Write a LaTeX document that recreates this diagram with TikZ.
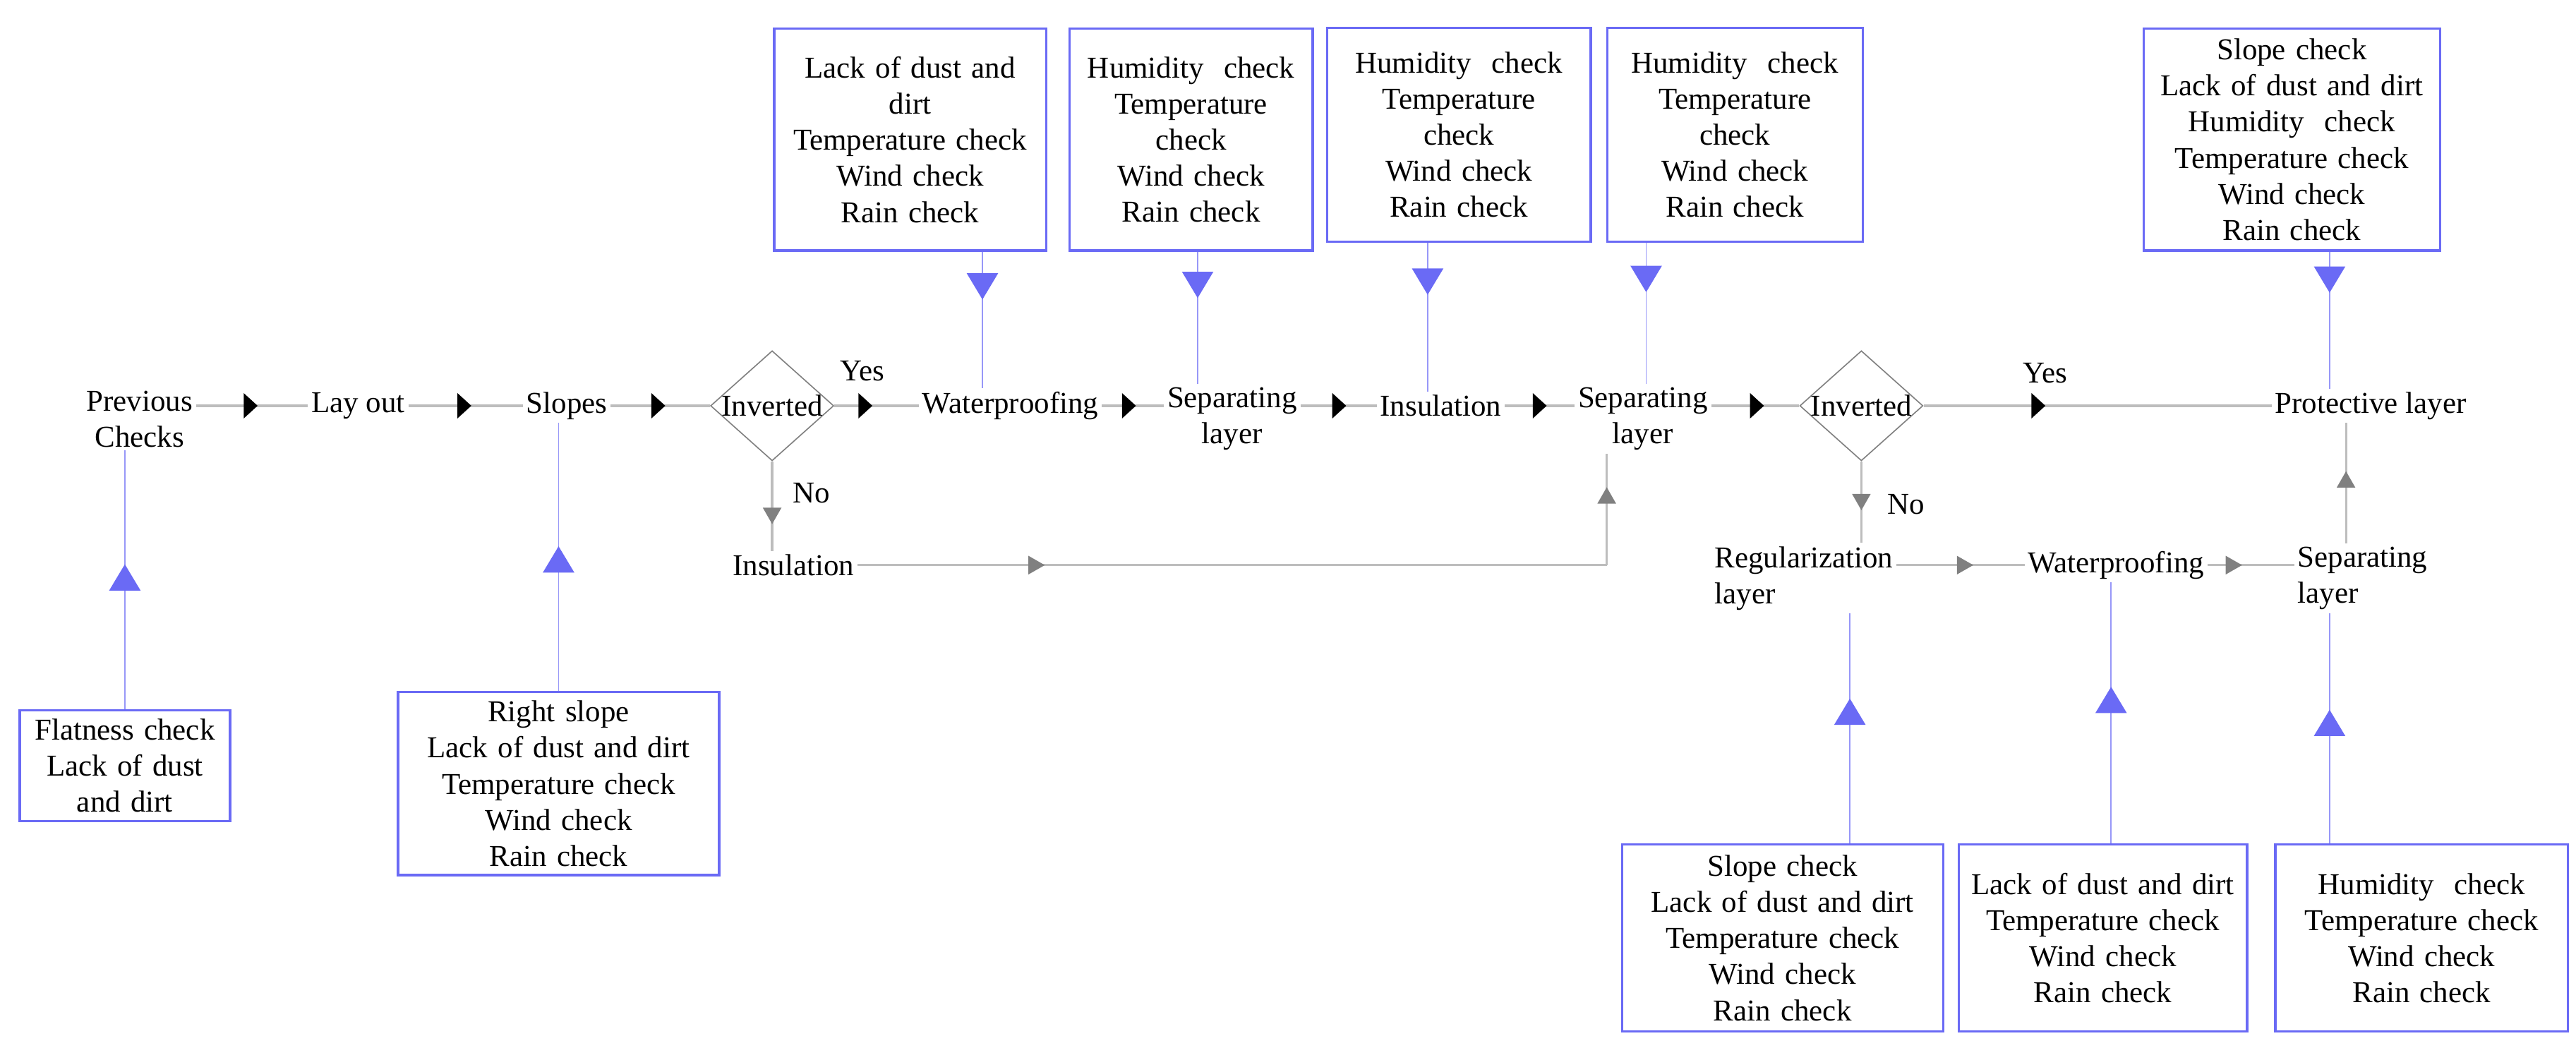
\documentclass[tikz,border=0pt]{standalone}
\usepackage{fontspec}
\setmainfont{Liberation Serif}
\usetikzlibrary{arrows.meta,shapes.geometric,decorations.markings}
\definecolor{chkblue}{HTML}{6A6AF5}
\definecolor{flowgray}{HTML}{BDBDBD}
\tikzset{
  stage/.style={inner sep=1pt, align=center, font=\fontsize{10.5}{12.5}\selectfont},
  chk/.style={draw=chkblue, thick, inner sep=3pt, align=center, font=\fontsize{10.5}{12.5}\selectfont},
  diam/.style={diamond, draw=gray, minimum width=1.5cm, minimum height=1.34cm, inner sep=0pt},
  tipat/.style 2 args={postaction={decorate,decoration={markings,
      mark=at position #1 with {\arrow{#2}}}}},
  flow/.style={draw=flowgray, line width=1.1pt, tipat={#1}{Triangle[length=0.17cm,width=0.3cm,black]}},
  back/.style={draw=flowgray, line width=0.8pt, tipat={#1}{Triangle[length=0.2cm,width=0.22cm,gray]}},
  test/.style={draw=chkblue!70, thin, tipat={#1}{Triangle[length=0.32cm,width=0.38cm,chkblue]}},
}
\begin{document}
\begin{tikzpicture}[x=0.02cm,y=-0.02cm]
\useasboundingbox (0,0) rectangle (1568,645);

% main row
\coordinate (row) at (0,247);
\node[stage] (prev) at (85,255) {Previous\\Checks};
\node[stage] (lay) at (218,247) {Lay out};
\node[stage] (slo) at (345,247) {Slopes};
\node[diam] (inv1) at (470,247) {};
\node[stage] at (inv1) {Inverted};
\node[stage] (wat1) at (615,247) {Waterproofing};
\node[stage] (sep1) at (750,255) {Separating\\layer};
\node[stage] (ins1) at (877,247) {Insulation};
\node[stage] (sep2) at (1000,255) {Separating\\layer};
\node[diam] (inv2) at (1133,247) {};
\node[stage] at (inv2) {Inverted};
\node[stage] (pro) at (1443,247) {Protective layer};
\node[stage] at (525,226) {Yes};
\node[stage] at (1245,227) {Yes};
\node[stage] at (494,300) {No};
\node[stage] at (1160,307) {No};

% lower rows
\node[stage] (ins2) at (483,344) {Insulation};
\node[stage, align=left] (reg) at (1098,352) {Regularization\\layer};
\node[stage] (wat2) at (1288,344) {Waterproofing};
\node[stage, align=left] (sep3) at (1438,352) {Separating\\layer};
\coordinate (turn) at (978,344);

\draw[flow=0.55] (prev.east |- row) -- (lay.west);
\draw[flow=0.55] (lay.east) -- (slo.west);
\draw[flow=0.55] (slo.east) -- (inv1.west);
\draw[flow=0.45] (inv1.east) -- (wat1.west);
\draw[flow=0.55] (wat1.east) -- (sep1.west |- row);
\draw[flow=0.6] (sep1.east |- row) -- (ins1.west);
\draw[flow=0.6] (ins1.east) -- (sep2.west |- row);
\draw[flow=0.6] (sep2.east |- row) -- (inv2.west);
\draw[flow=0.35] (inv2.east) -- (pro.west);

\draw[back=0.7] (inv1.south) -- (ins2.north -| inv1);
\draw[back=0.25] (ins2.east) -- (turn);
\draw[back=0.7] (turn) -- (sep2.south -| turn);
\draw[back=0.6] (inv2.south) -- (reg.north -| inv2);
\draw[back=0.6] (reg.east |- wat2) -- (wat2.west);
\draw[back=0.4] (wat2.east) -- (sep3.west |- wat2);
\draw[back=0.6] (sep3.north -| 1428,0) -- (pro.south -| 1428,0);

% checks above
\node[chk, text width=3.1cm, minimum height=2.7cm] (c1) at (554,85) {Lack of dust and\\dirt\\Temperature check\\Wind check\\Rain check};
\node[chk, text width=2.75cm, minimum height=2.7cm] (c2) at (725,85) {Humidity\ \ check\\Temperature\\check\\Wind check\\Rain check};
\node[chk, text width=3cm, minimum height=2.6cm] (c3) at (888,82) {Humidity\ \ check\\Temperature\\check\\Wind check\\Rain check};
\node[chk, text width=2.9cm, minimum height=2.6cm] (c4) at (1056,82) {Humidity\ \ check\\Temperature\\check\\Wind check\\Rain check};
\node[chk, text width=3.4cm, minimum height=2.7cm] (c5) at (1395,85) {Slope check\\Lack of dust and dirt\\Humidity\ \ check\\Temperature check\\Wind check\\Rain check};

% checks below
\node[chk, text width=2.35cm] (c6) at (76,466) {Flatness check\\Lack of dust\\and dirt};
\node[chk, text width=3.7cm] (c7) at (340,477) {Right slope\\Lack of dust and dirt\\Temperature check\\Wind check\\Rain check};
\node[chk, text width=3.7cm, minimum height=2.28cm] (c8) at (1085,571) {Slope check\\Lack of dust and dirt\\Temperature check\\Wind check\\Rain check};
\node[chk, text width=3.3cm, minimum height=2.28cm] (c9) at (1280,571) {Lack of dust and dirt\\Temperature check\\Wind check\\Rain check};
\node[chk, text width=3.35cm, minimum height=2.28cm] (c10) at (1474,571) {Humidity\ \ check\\Temperature check\\Wind check\\Rain check};

\draw[test=0.35] (c1.south -| 598,0) -- (wat1.north -| 598,0);
\draw[test=0.35] (c2.south -| 729,0) -- (sep1.north -| 729,0);
\draw[test=0.35] (c3.south -| 869,0) -- (ins1.north -| 869,0);
\draw[test=0.35] (c4.south -| 1002,0) -- (sep2.north -| 1002,0);
\draw[test=0.3] (c5.south -| 1418,0) -- (pro.north -| 1418,0);
\draw[test=0.56] (c6.north) -- (prev.south -| c6.north);
\draw[test=0.54] (c7.north) -- (slo.south -| c7.north);
\draw[test=0.63] (c8.north -| 1126,0) -- (reg.south -| 1126,0);
\draw[test=0.6] (c9.north -| 1285,0) -- (wat2.south -| 1285,0);
\draw[test=0.58] (c10.north -| 1418,0) -- (sep3.south -| 1418,0);
\end{tikzpicture}
\end{document}
